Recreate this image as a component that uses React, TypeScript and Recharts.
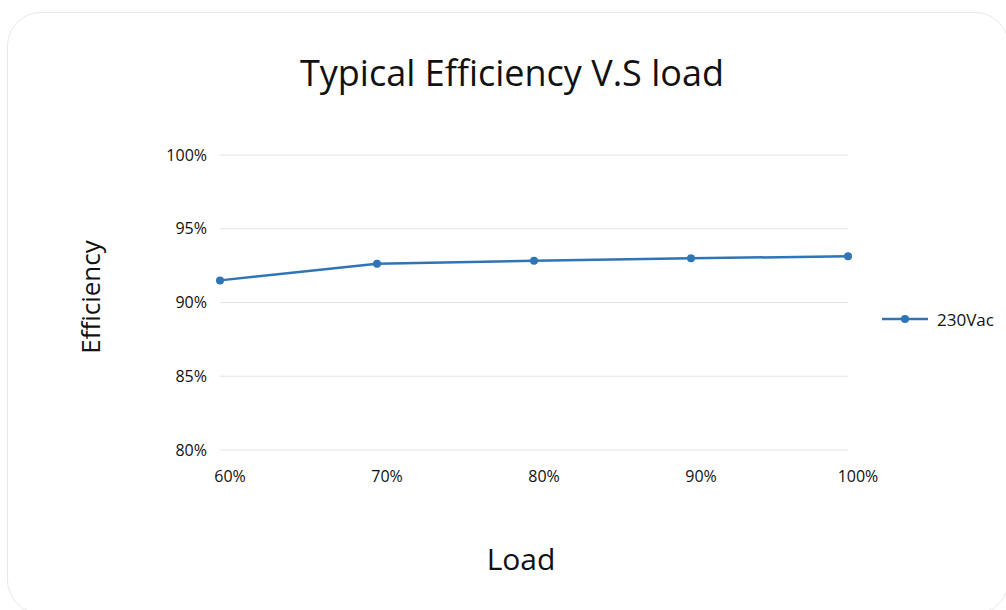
import React from "react";
import { CartesianGrid, Line, LineChart, XAxis, YAxis } from "recharts";

const loads = ["60%", "70%", "80%", "90%", "100%"];
const eff230 = [91.5, 92.63, 92.83, 93.0, 93.13];
const yTicks = [80, 85, 90, 95, 100];

const data = loads.map((load, i) => ({ load, v230: eff230[i] }));

const FONT = "'Open Sans', sans-serif";
const BLUE = "#2E75B6";

export default function App() {
  return (
    <div style={{ position: "absolute", left: 0, top: 0, width: 1006, height: 610, background: "#fff", overflow: "hidden", fontFamily: FONT }}>
      <div
        style={{
          position: "absolute",
          left: 7,
          top: 12,
          width: 1002,
          height: 602,
          border: "1.5px solid #e8e8e8",
          borderRadius: 34,
          boxSizing: "border-box",
        }}
      />
      <div style={{ position: "absolute", left: 0, width: 1024, top: 48, textAlign: "center", fontSize: 36, color: "#111" }}>
        Typical Efficiency V.S load
      </div>
      <div
        style={{
          position: "absolute",
          left: 90,
          top: 297,
          transform: "translate(-50%, -50%) rotate(-90deg)",
          fontSize: 26,
          color: "#111",
          whiteSpace: "nowrap",
        }}
      >
        Efficiency
      </div>
      <div style={{ position: "absolute", left: 421, width: 200, top: 538, textAlign: "center", fontSize: 30, color: "#111" }}>
        Load
      </div>
      <div style={{ position: "absolute", left: 882, top: 307, display: "flex", alignItems: "center", fontSize: 17, color: "#111" }}>
        <svg width={48} height={24}>
          <line x1={0} y1={12} x2={46} y2={12} stroke={BLUE} strokeWidth={2.5} />
          <circle cx={23} cy={12} r={4} fill={BLUE} />
        </svg>
        <span style={{ marginLeft: 7 }}>230Vac</span>
      </div>
      <div style={{ position: "absolute", left: 0, top: 0 }}>
        <LineChart width={1006} height={610} data={data} margin={{ top: 155, right: 158, bottom: 130, left: 160 }}>
          <CartesianGrid stroke="#e3e3e3" vertical={false} />
          <XAxis
            dataKey="load"
            axisLine={false}
            tickLine={false}
            tickSize={0}
            height={30}
            tick={{ fontSize: 16, fill: "#111", fontFamily: FONT, dx: 10, dy: 19 }}
            interval={0}
          />
          <YAxis
            domain={[80, 100]}
            ticks={yTicks}
            axisLine={false}
            tickLine={false}
            tickSize={0}
            tickMargin={13}
            width={60}
            tickFormatter={(v) => `${v}%`}
            tick={{ fontSize: 16, fill: "#111", fontFamily: FONT }}
          />
          <Line
            type="linear"
            dataKey="v230"
            stroke={BLUE}
            strokeWidth={2.5}
            dot={{ r: 4, fill: BLUE, stroke: BLUE, strokeWidth: 0 }}
            isAnimationActive={false}
          />
        </LineChart>
      </div>
    </div>
  );
}
